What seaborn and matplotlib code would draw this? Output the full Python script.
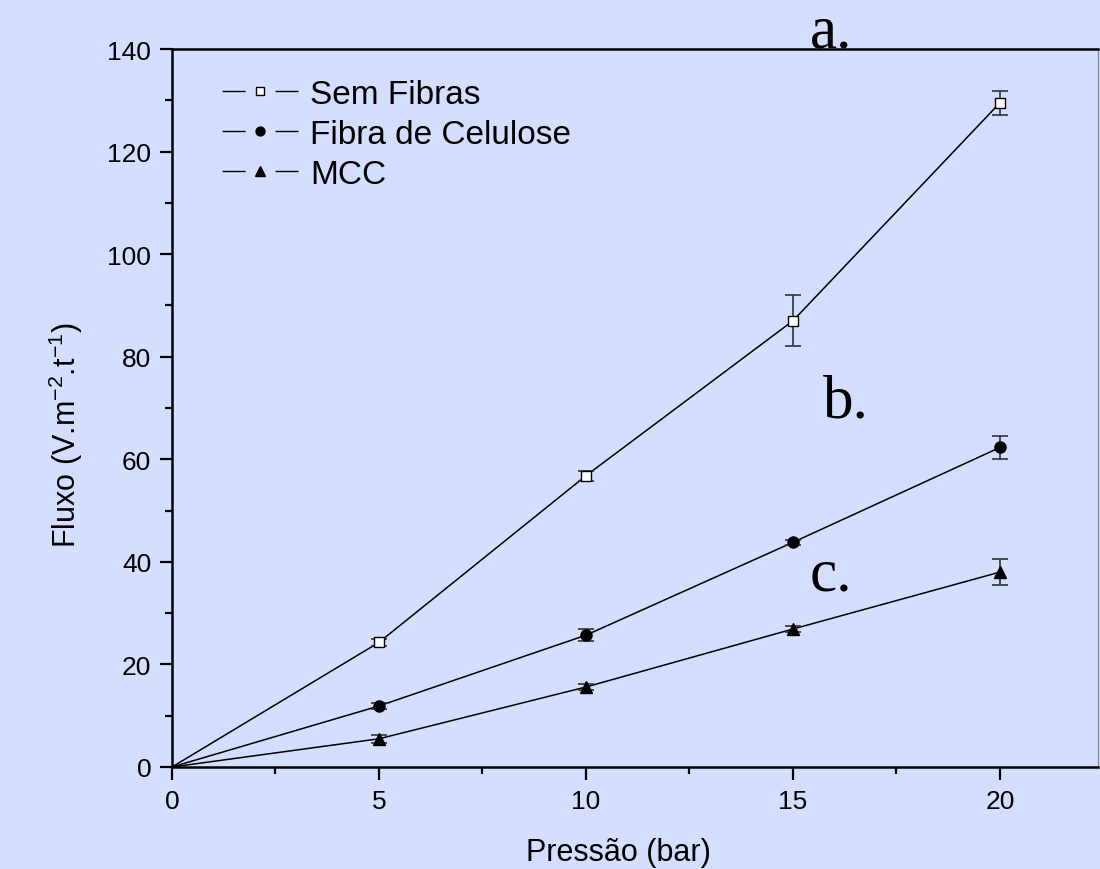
import numpy as np
import pandas as pd
import matplotlib
matplotlib.use('Agg')
import matplotlib.pyplot as plt
from matplotlib.lines import Line2D
import seaborn as sns

# data
pressao = [0, 5, 10, 15, 20]
sem_fibras = [0, 24.3, 56.8, 87.0, 129.5]
sem_fibras_err = [0, 0.7, 1.0, 5.0, 2.4]
fibra = [0, 11.9, 25.7, 43.8, 62.3]
fibra_err = [0, 0.5, 1.2, 0.5, 2.3]
mcc = [0, 5.5, 15.6, 26.9, 38.0]
mcc_err = [0, 0.8, 0.5, 0.5, 2.6]
series_names = ['Sem Fibras', 'Fibra de Celulose', 'MCC']

bg = '#D4DEFE'
sns.set_theme(style='ticks')
plt.rcParams['font.family'] = ['Liberation Sans', 'DejaVu Sans']
plt.rcParams['mathtext.default'] = 'regular'
plt.rcParams['text.color'] = 'black'
plt.rcParams['axes.labelcolor'] = 'black'

data = pd.DataFrame({
    'Pressao': pressao * 3,
    'Fluxo': sem_fibras + fibra + mcc,
    'Erro': sem_fibras_err + fibra_err + mcc_err,
    'Serie': [n for n in series_names for _ in pressao],
})

fig = plt.figure(figsize=(11, 8.7), dpi=100)
fig.patch.set_facecolor(bg)
ax = fig.add_axes([172 / 1100, 1 - 768 / 870, 926 / 1100, 718 / 870])
ax.set_facecolor(bg)

# connecting lines (from the origin)
sns.lineplot(data=data, x='Pressao', y='Fluxo', units='Serie', estimator=None,
             color='black', lw=1.1, ax=ax, legend=False)

styles = {
    'Sem Fibras': dict(marker='s', mfc='white', mec='black', ms=7, mew=1.0),
    'Fibra de Celulose': dict(marker='o', mfc='black', mec='black', ms=8),
    'MCC': dict(marker='^', mfc='black', mec='black', ms=9),
}
for name in series_names:
    sub = data[(data['Serie'] == name) & (data['Pressao'] > 0)]
    ax.errorbar(sub['Pressao'], sub['Fluxo'], yerr=sub['Erro'], fmt='none',
                ecolor='#333333', elinewidth=1.2, capsize=6, capthick=1.2, zorder=3)
    ax.plot(sub['Pressao'], sub['Fluxo'], ls='none', zorder=4, **styles[name])

ax.set_xlim(0, 22.37)
ax.set_ylim(0, 140)
ax.set_xticks([0, 5, 10, 15, 20])
ax.set_xticks(np.arange(0, 22.4, 2.5), minor=True)
ax.set_yticks(np.arange(0, 141, 20))
ax.set_yticks(np.arange(0, 141, 10), minor=True)
ax.tick_params(axis='both', which='major', direction='out', length=9, width=1.6,
               labelsize=19, pad=6, color='black', labelcolor='black')
ax.tick_params(axis='both', which='minor', direction='out', length=5, width=1.6, color='black')
ax.tick_params(axis='x', which='major', pad=7)

for side in ['left', 'bottom', 'top']:
    ax.spines[side].set_linewidth(1.8)
    ax.spines[side].set_color('black')
ax.spines['right'].set_linewidth(0.8)
ax.spines['right'].set_color('#888888')

ax.set_xlabel('Pressão (bar)', fontsize=22)
ax.set_ylabel('Fluxo (V.m$^{-2}$.t$^{-1}$)', fontsize=22)
ax.xaxis.set_label_coords(0.482, -0.097)
ax.yaxis.set_label_coords(-0.094, 0.464)

# curve labels
serif = ['Liberation Serif', 'DejaVu Serif']
ax.text(15.4, 140.4, 'a.', fontsize=44, family=serif, ha='left', va='baseline',
        color='black', clip_on=False)
ax.text(15.72, 68.4, 'b.', fontsize=44, family=serif, ha='left', va='baseline', color='black')
ax.text(15.4, 34.7, 'c.', fontsize=44, family=serif, ha='left', va='baseline', color='black')

# legend: line with a gap around the marker
handles = []
for name in series_names:
    line = Line2D([], [], color='black', lw=1.0, ls=(0, (16.6, 21.6, 16.6, 100)))
    mk = Line2D([], [], ls='none', **styles[name])
    mk.set_markersize(styles[name]['ms'] * 0.8)
    handles.append((line, mk))
leg = ax.legend(handles, series_names, loc='upper left', bbox_to_anchor=(0.054, 0.958),
                frameon=False, fontsize=24, handlelength=2.28, handletextpad=0.36,
                labelspacing=0.27, borderpad=0, borderaxespad=0)
for t in leg.get_texts():
    t.set_color('black')

fig.savefig('out.png', dpi=100, facecolor=bg)
